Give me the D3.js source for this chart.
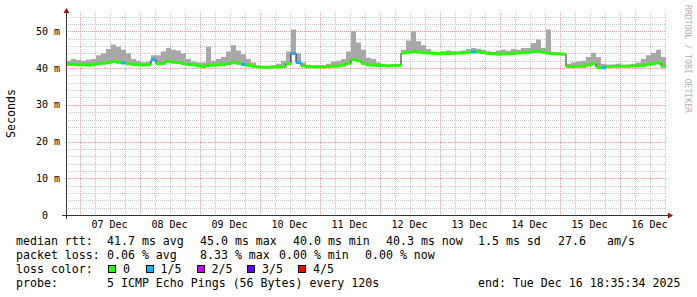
<!DOCTYPE html>
<html>
<head>
<meta charset="utf-8">
<script src="https://cdn.jsdelivr.net/npm/d3@7"></script>
<style>
body { margin: 0; background: #fff; }
svg { display: block; }
text { font-family: "DejaVu Sans Mono", monospace; fill: #000; }
</style>
</head>
<body>
<div id="chart"></div>
<script>
// 2-hourly samples, last 10 days (ms)
var median = [
  41.0, 41.0, 40.9, 40.9, 40.8, 40.9, 41.2, 41.3, 41.5, 41.8,
  41.6, 41.4, 41.2, 41.0, 40.9, 40.8, 40.9, 42.3, 41.2, 41.3,
  41.8, 41.6, 41.5, 41.2, 41.0, 40.9, 40.6, 40.4, 40.7, 40.8,
  40.9, 41.0, 41.2, 41.6, 41.3, 41.0, 40.7, 40.5, 40.3, 40.2,
  40.2, 40.3, 40.3, 40.4, 41.2, 44.0, 41.5, 40.6, 40.4, 40.3,
  40.3, 40.3, 40.4, 40.5, 40.6, 40.8, 41.3, 42.3, 42.0, 41.3,
  40.9, 40.8, 40.7, 40.7, 40.6, 40.7, 40.7, 44.1, 44.3, 44.5,
  44.4, 44.2, 44.1, 44.0, 44.0, 44.0, 44.0, 44.0, 44.1, 44.1,
  44.3, 44.4, 44.4, 44.2, 44.0, 43.9, 43.8, 43.9, 43.9, 44.0,
  44.1, 44.2, 44.3, 44.5, 44.6, 44.3, 44.0, 43.9, 43.9, 43.8,
  40.5, 40.4, 40.5, 40.5, 40.8, 41.2, 40.2, 40.1, 40.4, 40.5,
  40.5, 40.5, 40.5, 40.6, 40.6, 40.7, 41.0, 41.2, 41.4, 40.5
];
var maxPing = [
  42.0, 42.5, 42.2, 42.0, 42.3, 42.5, 43.5, 44.0, 45.2, 46.4,
  45.8, 45.0, 44.0, 42.5, 42.0, 41.6, 41.8, 43.5, 43.5, 44.5,
  45.5, 45.0, 44.8, 44.0, 42.5, 41.8, 41.5, 41.5, 45.8, 42.0,
  42.5, 43.0, 44.5, 46.2, 44.8, 43.8, 42.5, 41.5, 40.8, 40.6,
  40.6, 40.8, 41.2, 42.0, 44.5, 50.5, 44.0, 41.5, 40.9, 40.7,
  40.8, 40.8, 41.2, 41.8, 42.0, 42.5, 44.5, 50.0, 47.0, 45.0,
  42.8, 42.5, 41.5, 41.2, 41.0, 41.1, 41.0, 45.0, 47.5, 50.0,
  47.3, 46.2, 45.2, 44.5, 44.4, 44.6, 44.8, 44.6, 44.5, 44.8,
  45.2, 45.5, 45.3, 45.0, 44.6, 44.4, 44.8, 45.0, 44.7, 45.2,
  45.0, 45.5, 45.5, 46.8, 47.8, 45.5, 50.5, 44.3, 44.2, 44.1,
  41.2, 41.5, 41.8, 42.0, 43.0, 44.2, 43.0, 41.2, 41.0, 41.0,
  41.2, 40.9, 41.0, 41.2, 41.5, 42.5, 43.5, 44.2, 45.0, 43.0
];
// lost pings out of 5 per sample (only the non-zero ones)
var lossIdx = [11, 17, 35, 45, 46, 81, 107];
var lossVal = [1, 1, 1, 1, 1, 1, 1];

var lossLabels = ["0", "1/5", "2/5", "3/5", "4/5"];
var lossColors = ["#26ff00", "#00b8ff", "#c800ff", "#5e00ff", "#ff0000"];
var yTicks = [0, 10, 20, 30, 40, 50];
var yTickLabels = ["0", "10 m", "20 m", "30 m", "40 m", "50 m"];

var width = 697, height = 297;
var start = new Date(Date.UTC(2025, 11, 6, 18, 35, 34)),
    end = new Date(Date.UTC(2025, 11, 16, 18, 35, 34));

var x = d3.scaleUtc().domain([start, end]).range([66, 666]);
var y = d3.scaleLinear().domain([0, 55]).range([215, 13]);

var svg = d3.select("#chart").append("svg")
  .attr("width", width)
  .attr("height", height);

var grid = svg.append("g").attr("shape-rendering", "crispEdges");

// minor grid
grid.selectAll(".hmin")
  .data(d3.range(2, 55, 2).filter(function (v) { return v % 10 !== 0; }))
  .enter().append("line")
  .attr("x1", 66).attr("x2", 666)
  .attr("y1", function (d) { return Math.round(y(d)) + 0.5; })
  .attr("y2", function (d) { return Math.round(y(d)) + 0.5; })
  .attr("stroke", "#c8c8c8").attr("stroke-dasharray", "1,1");

grid.selectAll(".vmin")
  .data(d3.utcHour.every(6).range(start, end).filter(function (d) { return d.getUTCHours() !== 0; }))
  .enter().append("line")
  .attr("x1", function (d) { return Math.round(x(d)) + 0.5; })
  .attr("x2", function (d) { return Math.round(x(d)) + 0.5; })
  .attr("y1", 13).attr("y2", 215)
  .attr("stroke", "#c8c8c8").attr("stroke-dasharray", "1,1");

// major grid
grid.selectAll(".hmaj")
  .data(yTicks.slice(1))
  .enter().append("line")
  .attr("x1", 66).attr("x2", 666)
  .attr("y1", function (d) { return Math.round(y(d)) + 0.5; })
  .attr("y2", function (d) { return Math.round(y(d)) + 0.5; })
  .attr("stroke", "#eea0a0").attr("stroke-dasharray", "1,1");

grid.selectAll(".vmaj")
  .data(d3.utcDay.range(start, end))
  .enter().append("line")
  .attr("x1", function (d) { return Math.round(x(d)) + 0.5; })
  .attr("x2", function (d) { return Math.round(x(d)) + 0.5; })
  .attr("y1", 13).attr("y2", 215)
  .attr("stroke", "#eea0a0").attr("stroke-dasharray", "1,1");

// samples
var data = median.map(function (m, i) {
  var k = lossIdx.indexOf(i);
  return {
    t0: d3.utcHour.offset(start, 2 * i),
    t1: d3.utcHour.offset(start, 2 * i + 2),
    med: m,
    hi: maxPing[i],
    loss: k < 0 ? 0 : lossVal[k]
  };
});
var pts = data.map(function (d) { return { t: d.t0, med: d.med, hi: d.hi }; });
pts.push({ t: end, med: median[median.length - 1], hi: maxPing[maxPing.length - 1] });

// smoke
svg.append("path")
  .datum(pts)
  .attr("fill", "#a8a8a8")
  .attr("d", d3.area()
    .curve(d3.curveStepAfter)
    .x(function (d) { return x(d.t); })
    .y0(function (d) { return y(d.med) + 1; })
    .y1(function (d) { return y(d.hi); }));

// median (thin dark line, then loss-coloured segments)
svg.append("path")
  .datum(pts)
  .attr("fill", "none")
  .attr("stroke", "#202020")
  .attr("stroke-width", 1)
  .attr("d", d3.line()
    .curve(d3.curveStepAfter)
    .x(function (d) { return x(d.t); })
    .y(function (d) { return y(d.med); }));

svg.append("g").selectAll("line")
  .data(data)
  .enter().append("line")
  .attr("x1", function (d) { return x(d.t0); })
  .attr("x2", function (d) { return x(d.t1); })
  .attr("y1", function (d) { return y(d.med); })
  .attr("y2", function (d) { return y(d.med); })
  .attr("stroke", function (d) { return lossColors[d.loss]; })
  .attr("stroke-width", 3);

// axes
var ax = svg.append("g").attr("shape-rendering", "crispEdges");
ax.append("line").attr("x1", 62).attr("x2", 669).attr("y1", 215.5).attr("y2", 215.5).attr("stroke", "#333");
ax.append("line").attr("x1", 66.5).attr("x2", 66.5).attr("y1", 219).attr("y2", 12).attr("stroke", "#333");
svg.append("path").attr("d", "M668,212.5L673,215.5L668,218.5Z").attr("fill", "#8b1a1a");
svg.append("path").attr("d", "M63.5,13L66.5,8L69.5,13Z").attr("fill", "#8b1a1a");

svg.selectAll(".ylab")
  .data(yTicks)
  .enter().append("text")
  .attr("x", function (d) { return d === 0 ? 48 : 60; })
  .attr("y", function (d) { return y(d) + 3.5; })
  .attr("text-anchor", "end")
  .style("font-size", "10px")
  .text(function (d, i) { return yTickLabels[i]; });

svg.selectAll(".xlab")
  .data(d3.utcDay.range(start, end))
  .enter().append("text")
  .attr("x", function (d) { return x(d3.utcHour.offset(d, 12)); })
  .attr("y", 228)
  .attr("text-anchor", "middle")
  .style("font-size", "10px")
  .text(d3.utcFormat("%d %b"));

svg.append("text")
  .attr("transform", "translate(14.5,113.5) rotate(-90)")
  .attr("text-anchor", "middle")
  .style("font-size", "11.6px")
  .text("Seconds");

svg.append("text")
  .attr("transform", "translate(685,5) rotate(90)")
  .attr("textLength", 108)
  .attr("lengthAdjust", "spacingAndGlyphs")
  .style("font-size", "9px")
  .style("fill", "#b0b0b0")
  .text("RRDTOOL / TOBI OETIKER");

// legend
var legendRows = [
  { y: 245, items: [[16, "median rtt:"], [107, "41.7 ms avg"], [200, "45.0 ms max"], [293, "40.0 ms min"], [386, "40.3 ms now"], [478, "1.5 ms sd"], [558, "27.6"], [607, "am/s"]] },
  { y: 259, items: [[16, "packet loss:"], [107, "0.06 % avg"], [200, "8.33 % max"], [279, "0.00 % min"], [365, "0.00 % now"]] },
  { y: 273, items: [[16, "loss color:"]] },
  { y: 287, items: [[16, "probe:"], [107, "5 ICMP Echo Pings (56 Bytes) every 120s"], [478, "end: Tue Dec 16 18:35:34 2025"]] }
];
legendRows.forEach(function (row) {
  svg.append("g").selectAll("text")
    .data(row.items)
    .enter().append("text")
    .attr("x", function (d) { return d[0]; })
    .attr("y", row.y)
    .attr("xml:space", "preserve")
    .style("font-size", "11.6px")
    .text(function (d) { return d[1]; });
});

var boxX = [108, 145.5, 196.5, 247, 298];
var lc = svg.append("g").selectAll("g")
  .data(lossLabels)
  .enter().append("g");
lc.append("rect")
  .attr("x", function (d, i) { return boxX[i] + 0.5; })
  .attr("y", 265.5)
  .attr("width", 7).attr("height", 7)
  .attr("fill", function (d, i) { return lossColors[i]; })
  .attr("stroke", "#000")
  .attr("shape-rendering", "crispEdges");
lc.append("text")
  .attr("x", function (d, i) { return boxX[i] + 15; })
  .attr("y", 273)
  .style("font-size", "11.6px")
  .text(function (d) { return d; });
</script>
</body>
</html>
